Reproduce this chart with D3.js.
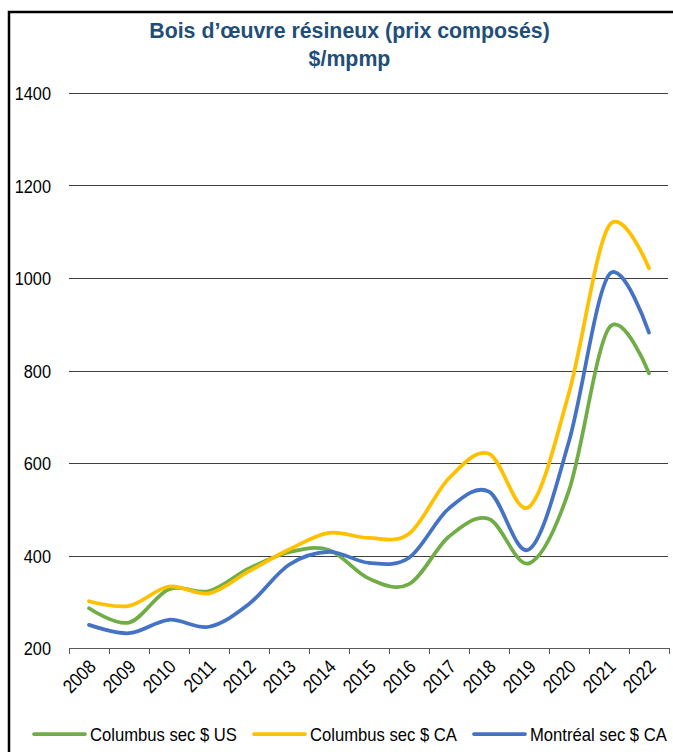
<!DOCTYPE html>
<html>
<head>
<meta charset="utf-8">
<script src="https://cdn.jsdelivr.net/npm/d3@7"></script>
<style>
	body { margin: 0; background: #fff; }
	svg text { font-family: 'Liberation Sans', Arial, sans-serif; }
</style>
</head>
<body>
<svg id="chart-svg" width="673" height="752"></svg>
<script>
const YEARS = ['2008', '2009', '2010', '2011', '2012', '2013', '2014', '2015', '2016', '2017', '2018', '2019', '2020', '2021', '2022'];
const COLUMBUS_US = [286, 255, 327, 323, 372, 407, 412, 350, 338, 441, 479, 383, 541, 892, 794];
const COLUMBUS_CA = [301, 291, 333, 318, 366, 413, 449, 438, 447, 567, 620, 505, 752, 1113, 1021];
const MONTREAL_CA = [250, 232, 261, 246, 295, 380, 408, 384, 395, 502, 538, 413, 647, 1007, 882];
const Y_TICKS = [200, 400, 600, 800, 1000, 1200, 1400];
const SERIES_NAMES = ['Columbus sec $ US', 'Columbus sec $ CA', 'Montréal sec $ CA'];
const SERIES_COLORS = ['#70AD47', '#FFC000', '#4472C4'];

const svg = d3.select('#chart-svg');
const plot = { left: 69, right: 669, top: 93, bottom: 648 };

// places a text at (x, y) and squeezes it horizontally (no narrow font installed)
function placeNarrow(sel, x, y, squeeze, extra = '') {
	sel.attr('x', 0).attr('y', 0)
		.attr('transform', (d, i) => {
			const px = typeof x === 'function' ? x(d, i) : x;
			const py = typeof y === 'function' ? y(d, i) : y;
			return 'translate(' + px + ',' + py + ') ' + extra + ' scale(' + squeeze + ',1)';
		});
	return sel;
}

// frame of the chart area (right and bottom edges fall outside the picture)
svg.append('rect')
	.attr('x', 9).attr('y', 12)
	.attr('width', 700).attr('height', 780)
	.attr('fill', 'none').attr('stroke', '#000').attr('stroke-width', 2.5);

// title
const titleLines = ['Bois d’œuvre résineux (prix composés)', '$/mpmp'];
placeNarrow(
	svg.selectAll('.title')
		.data(titleLines)
		.enter()
		.append('text')
		.attr('class', 'title')
		.attr('text-anchor', 'middle')
		.attr('fill', '#1F4E79')
		.attr('font-weight', 'bold')
		.attr('font-size', 22)
		.text((d) => d),
	349.5, (d, i) => 38 + i * 28, 0.97
);

const xScale = d3.scaleBand().domain(YEARS).range([plot.left, plot.right]);
const yScale = d3.scaleLinear().domain([200, 1400]).range([plot.bottom, plot.top]);

// horizontal gridlines + y labels
svg.append('g')
	.selectAll('line')
	.data(Y_TICKS.filter((d) => d > 200))
	.enter()
	.append('line')
	.attr('x1', plot.left).attr('x2', plot.right - 1)
	.attr('y1', (d) => Math.round(yScale(d)) + 0.5)
	.attr('y2', (d) => Math.round(yScale(d)) + 0.5)
	.attr('stroke', '#404040').attr('stroke-width', 1);

placeNarrow(
	svg.append('g')
		.selectAll('text')
		.data(Y_TICKS)
		.enter()
		.append('text')
		.attr('text-anchor', 'end')
		.attr('font-size', 19)
		.attr('fill', '#000')
		.text((d) => d),
	51, (d) => yScale(d) + 7, 0.86
);

// x axis: ticks between categories, rotated labels
const xAxis = svg.append('g').attr('transform', 'translate(0,' + plot.bottom + ')');
xAxis.append('line')
	.attr('x1', plot.left).attr('x2', plot.right + 1)
	.attr('y1', 0.5).attr('y2', 0.5)
	.attr('stroke', '#595959').attr('stroke-width', 1);
const tickPos = YEARS.map((y) => xScale(y)).concat([plot.right]);
xAxis.selectAll('.tick')
	.data(tickPos)
	.enter()
	.append('line')
	.attr('class', 'tick')
	.attr('x1', (d) => Math.round(d) + 0.5).attr('x2', (d) => Math.round(d) + 0.5)
	.attr('y1', 0).attr('y2', 6)
	.attr('stroke', '#595959');
placeNarrow(
	xAxis.selectAll('.xlabel')
		.data(YEARS)
		.enter()
		.append('text')
		.attr('class', 'xlabel')
		.attr('text-anchor', 'end')
		.attr('font-size', 19)
		.text((d) => d),
	(d) => xScale(d) + xScale.bandwidth() / 2 + 8, 20, 0.88, 'rotate(-45)'
);

// series lines (Excel smoothing ~ cardinal spline)
const line = d3.line()
	.x((d, i) => xScale(YEARS[i]) + xScale.bandwidth() / 2)
	.y((d) => yScale(d))
	.curve(d3.curveCardinal.tension(0));

[COLUMBUS_US, COLUMBUS_CA, MONTREAL_CA].forEach((values, k) => {
	svg.append('path')
		.datum(values)
		.attr('fill', 'none')
		.attr('stroke', SERIES_COLORS[k])
		.attr('stroke-width', 3.75)
		.attr('stroke-linecap', 'round')
		.attr('d', line);
});

// legend
const legendX = [34, 254, 474];
const legend = svg.append('g').attr('transform', 'translate(0,734)');
SERIES_NAMES.forEach((name, k) => {
	legend.append('line')
		.attr('x1', legendX[k]).attr('x2', legendX[k] + 51)
		.attr('y1', 0).attr('y2', 0)
		.attr('stroke', SERIES_COLORS[k]).attr('stroke-width', 3.75)
		.attr('stroke-linecap', 'round');
	placeNarrow(
		legend.append('text')
			.attr('font-size', 18.5)
			.text(name),
		legendX[k] + 56, 6.5, 0.9
	);
});
</script>
</body>
</html>
